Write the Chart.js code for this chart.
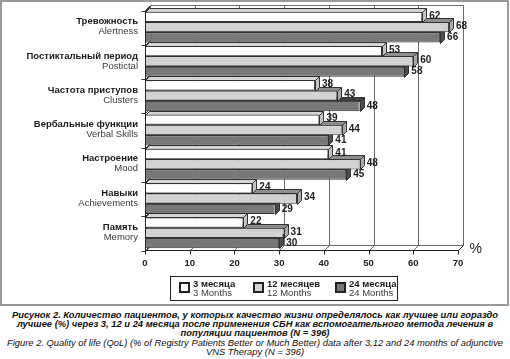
<!DOCTYPE html>
<html><head><meta charset="utf-8">
<script src="https://cdn.jsdelivr.net/npm/chart.js@4/dist/chart.umd.min.js"></script>
<style>
html,body{margin:0;padding:0;background:#fff;width:510px;height:359px;overflow:hidden;}
#c{position:absolute;left:0;top:0;}
#cap{position:absolute;left:0;top:310px;width:510px;text-align:center;font-family:'Liberation Sans',Arial,sans-serif;font-size:9.4px;line-height:9.2px;color:#111;font-style:italic;}
#cap .b{font-weight:bold;white-space:nowrap;}
#cap .n{white-space:nowrap;}
</style></head>
<body>
<canvas id="c" width="510" height="308"></canvas>
<div id="cap">
<div class="b">Рисунок 2. Количество пациентов, у которых качество жизни определялось как лучшее или гораздо</div>
<div class="b">лучшее (%) через 3, 12 и 24 месяца после применения СБН как вспомогательного метода лечения в</div>
<div class="b">популяции пациентов (N = 396)</div>
<div class="n">Figure 2. Quality of life (QoL) (% of Registry Patients Better or Much Better) data after 3,12 and 24 months of adjunctive</div>
<div class="n">VNS Therapy (N = 396)</div>
</div>
<script>
const categoriesRu = ['Тревожность','Постиктальный период','Частота приступов','Вербальные функции','Настроение','Навыки','Память'];
const categoriesEn = ['Alertness','Postictal','Clusters','Verbal Skills','Mood','Achievements','Memory'];
const seriesRu = ['3 месяца','12 месяцев','24 месяца'];
const seriesEn = ['3 Months','12 Months','24 Months'];
const months3  = [62,53,38,39,41,24,22];
const months12 = [68,60,43,44,48,34,31];
const months24 = [66,58,48,41,45,29,30];
const xTicks = [0,10,20,30,40,50,60,70];

const FONT = "'Liberation Sans', Arial, sans-serif";
const D = 4;   // bar depth
const W = 5;   // wall depth
const faces = [
  {front:'#ffffff', top:'#d6d6d6', side:'#c4c4c4'},
  {front:'#d2d2d2', top:'#8e8e8e', side:'#a9a9a9'},
  {front:'#787878', top:'#3e3e3e', side:'#4c4c4c'}
];

function line(ctx,x1,y1,x2,y2){ctx.beginPath();ctx.moveTo(x1,y1);ctx.lineTo(x2,y2);ctx.stroke();}
function poly(ctx,pts,fill){ctx.beginPath();ctx.moveTo(pts[0][0],pts[0][1]);for(let i=1;i<pts.length;i++)ctx.lineTo(pts[i][0],pts[i][1]);ctx.closePath();ctx.fillStyle=fill;ctx.fill();ctx.stroke();}

const threeD = {
  id:'threeD',
  beforeDatasetsDraw(chart){
    const ctx=chart.ctx, a=chart.chartArea, xs=chart.scales.x, ys=chart.scales.y;
    ctx.save();
    ctx.lineWidth=1;
    const L=Math.round(a.left)+0.5, R=Math.round(xs.getPixelForValue(70))+0.5;
    const T=Math.round(a.top)+0.5, B=Math.round(a.bottom)+0.5;
    ctx.strokeStyle='#6a6a6a';
    line(ctx,L+W,T-W,R+W,T-W);
    xTicks.forEach(v=>{
      const px=Math.round(xs.getPixelForValue(v))+0.5;
      line(ctx,px+W,T-W,px+W,B-W);
      line(ctx,px,B,px+W,B-W);
    });
    line(ctx,L+W,B-W,R+W,B-W);
    ctx.strokeStyle='#333';
    line(ctx,L,T,L+W,T-W);
    const n=categoriesRu.length;
    for(let i=0;i<=n;i++){
      const y=Math.round(T+(B-T)*i/n)+0.5;
      line(ctx,L-4,y,L,y);
      line(ctx,L,y,L+W,y-W);
    }
    const bars=[];
    chart.data.datasets.forEach((d,di)=>{
      chart.getDatasetMeta(di).data.forEach(el=>bars.push({el,di}));
    });
    bars.sort((p,q)=>q.el.y-p.el.y);
    ctx.strokeStyle='#333';
    bars.forEach(({el,di})=>{
      const p=el.getProps(['x','y','base','height'],true);
      const t=Math.round(p.y-p.height/2)+0.5, b=Math.round(p.y+p.height/2)+0.5;
      const x0=Math.round(p.base)+0.5, x1=Math.round(p.x)+0.5;
      poly(ctx,[[x0,t],[x0+D,t-D],[x1+D,t-D],[x1,t]],faces[di].top);
      poly(ctx,[[x1,t],[x1+D,t-D],[x1+D,b-D],[x1,b]],faces[di].side);
    });
    ctx.restore();
  },
  afterDatasetsDraw(chart){
    const ctx=chart.ctx, a=chart.chartArea, xs=chart.scales.x, ys=chart.scales.y;
    ctx.save();
    const L=Math.round(a.left)+0.5, R=Math.round(xs.getPixelForValue(70))+0.5;
    const T=Math.round(a.top)+0.5, B=Math.round(a.bottom)+0.5;
    ctx.strokeStyle='#222'; ctx.lineWidth=1;
    line(ctx,L,T,L,B);
    line(ctx,L,B,R,B);
    line(ctx,R,B,R+W,B-W);
    ctx.strokeStyle='#6a6a6a';
    line(ctx,R+W,T-W,R+W,B-W);
    ctx.strokeStyle='#222';
    xTicks.forEach(v=>{
      const px=Math.round(xs.getPixelForValue(v))+0.5;
      line(ctx,px,B,px,B+4);
    });
    ctx.fillStyle='#222';
    ctx.font='bold 9.5px '+FONT;
    ctx.textAlign='center'; ctx.textBaseline='middle';
    xTicks.forEach(v=>ctx.fillText(String(v),xs.getPixelForValue(v),B+13));
    ctx.font='14px '+FONT;
    ctx.textAlign='left';
    ctx.fillText('%',R+11,B-1);
    ctx.font='bold 10px '+FONT;
    ctx.textAlign='left'; ctx.textBaseline='middle';
    chart.data.datasets.forEach((d,di)=>{
      chart.getDatasetMeta(di).data.forEach((el,i)=>{
        const p=el.getProps(['x','y'],true);
        ctx.fillText(String(d.data[i]),p.x+7,p.y-1+(di===2?1:0));
      });
    });
    ctx.textAlign='right';
    categoriesRu.forEach((c,i)=>{
      const y=ys.getPixelForValue(i);
      ctx.fillStyle='#1a1a1a';
      ctx.font='bold 9.5px '+FONT;
      ctx.fillText(c,a.left-7,y-5.5);
      ctx.fillStyle='#3a3a3a';
      ctx.font='9.5px '+FONT;
      ctx.fillText(categoriesEn[i],a.left-7,y+4.5);
    });
    ctx.restore();
  },
  afterDraw(chart){
    const ctx=chart.ctx;
    ctx.save();
    ctx.strokeStyle='#222'; ctx.lineWidth=1;
    ctx.strokeRect(170.5,276.5,227,24);
    const sx=[179,253,335];
    ctx.textBaseline='middle'; ctx.textAlign='left';
    seriesRu.forEach((s,i)=>{
      ctx.lineWidth=2; ctx.strokeStyle='#222';
      ctx.fillStyle=faces[i].front;
      ctx.fillRect(sx[i]+1,283,9,9);
      ctx.strokeRect(sx[i]+1,283,9,9);
      ctx.fillStyle='#1a1a1a';
      ctx.font='bold 9.5px '+FONT;
      ctx.fillText(s,sx[i]+14,284.5);
      ctx.fillStyle='#3a3a3a';
      ctx.font='9.5px '+FONT;
      ctx.fillText(seriesEn[i],sx[i]+14,293);
    });
    ctx.strokeStyle='#9a9a9a'; ctx.lineWidth=2;
    ctx.strokeRect(1,1,507,304);
    ctx.restore();
  }
};

new Chart(document.getElementById('c'),{
  type:'bar',
  data:{
    labels:categoriesEn,
    datasets:[
      {label:seriesEn[0],data:months3,backgroundColor:faces[0].front},
      {label:seriesEn[1],data:months12,backgroundColor:faces[1].front},
      {label:seriesEn[2],data:months24,backgroundColor:faces[2].front}
    ]
  },
  options:{
    indexAxis:'y',
    responsive:false,
    animation:false,
    events:[],
    layout:{padding:{left:145,right:52,top:10,bottom:58}},
    datasets:{bar:{categoryPercentage:0.9,barPercentage:1.0,borderColor:'#333',borderWidth:1,borderSkipped:false}},
    plugins:{legend:{display:false},tooltip:{enabled:false}},
    scales:{
      x:{display:false,min:0,max:70},
      y:{display:false}
    }
  },
  plugins:[threeD]
});
</script>
</body></html>
